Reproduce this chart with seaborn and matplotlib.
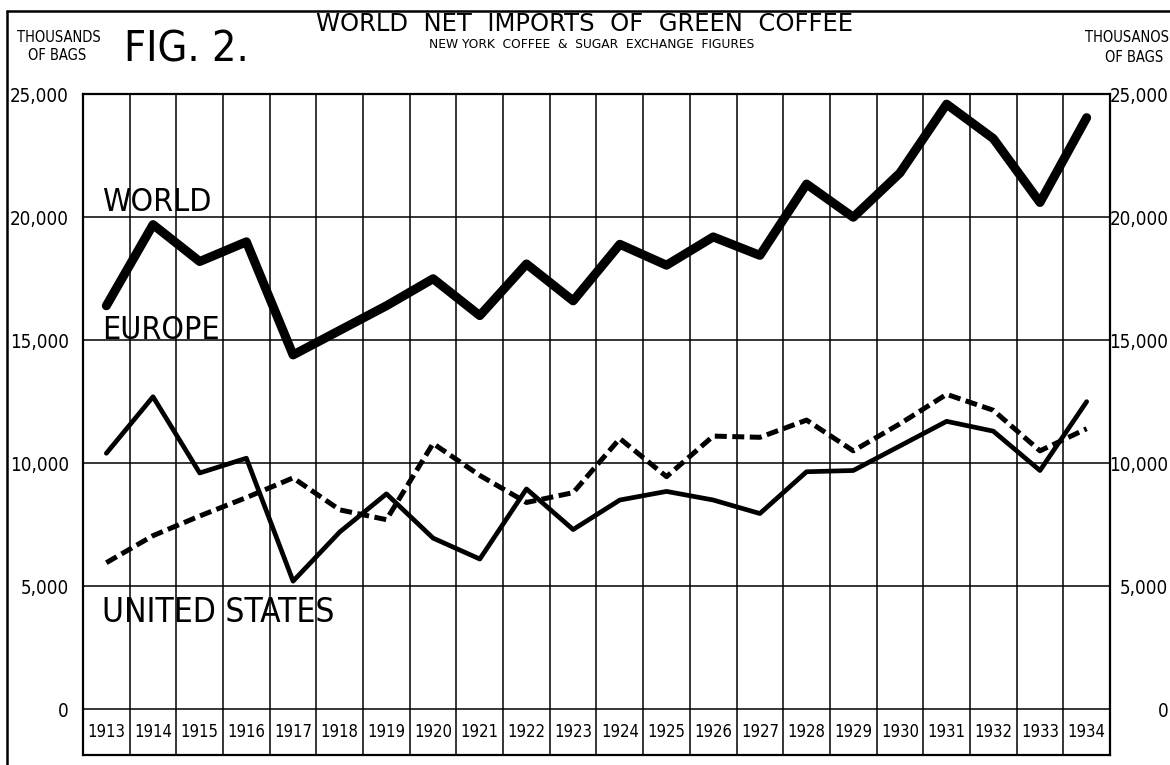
import matplotlib
matplotlib.use("Agg")
import matplotlib.pyplot as plt
import seaborn as sns
from matplotlib.lines import Line2D

# ------------------------------------------------------------------
# data (thousands of bags)
# ------------------------------------------------------------------
years = list(range(1913, 1935))
world = [16400, 19700, 18200, 19000, 14400, 15400, 16400, 17500, 16000, 18100, 16600,
         18900, 18050, 19200, 18450, 21350, 20000, 21800, 24600, 23200, 20600, 24050]
europe = [10400, 12700, 9600, 10200, 5200, 7200, 8750, 6950, 6100, 8950, 7300,
          8500, 8850, 8500, 7950, 9650, 9700, 10700, 11700, 11300, 9700, 12500]
united_states = [5950, 7050, 7850, 8600, 9400, 8100, 7700, 10800, 9500, 8400, 8800,
                 11000, 9450, 11100, 11050, 11750, 10500, 11600, 12800, 12150, 10500, 11400]
y_ticks = [0, 5000, 10000, 15000, 20000, 25000]

sns.set_theme(style="white")
plt.rcParams["font.family"] = ["DejaVu Sans"]
plt.rcParams["text.color"] = "black"
plt.rcParams["ytick.color"] = "black"
COND = dict(family="DejaVu Sans", fontstretch="condensed", color="black")

W, H = 1170, 765
fig = plt.figure(figsize=(W / 100, H / 100), dpi=100)
fig.patch.set_facecolor("white")

# plot box: x 83..1110 px, y 94..755 px (year strip below the zero line)
ax = fig.add_axes([83 / W, 1 - 755 / H, (1110 - 83) / W, (755 - 94.3) / H])
ax.set_xlim(years[0] - 0.5, years[-1] + 0.5)
ax.set_ylim(-1870, 25000)

# hand drawn style grid: column dividers and 5,000 rules
ax.vlines([yr - 0.5 for yr in years[1:]], -1870, 25000, color="black", lw=1.1, zorder=1)
ax.hlines(y_ticks, years[0] - 0.5, years[-1] + 0.5, color="black", lw=1.1, zorder=1)

sns.lineplot(x=years, y=world, ax=ax, color="black", linewidth=6.5, zorder=3)
sns.lineplot(x=years, y=europe, ax=ax, color="black", linewidth=3.4, zorder=3)
sns.lineplot(x=years, y=united_states, ax=ax, color="black", linewidth=3.6,
             linestyle=(0, (2.4, 1.1)), zorder=3)

# series names written on the chart
ax.text(1912.9, 20250, "WORLD", fontsize=23, ha="left", va="baseline", **COND)
ax.text(1912.9, 15050, "EUROPE", fontsize=23, ha="left", va="baseline", **COND)
ax.text(1912.9, 3550, "UNITED STATES", fontsize=24, ha="left", va="baseline", **COND)

# year strip
for yr in years:
    ax.text(yr, -935, str(yr), fontsize=12, ha="center", va="center", **COND)

# left axis labels
ax.set_yticks(y_ticks)
ax.yaxis.set_major_formatter(plt.FuncFormatter(lambda v, pos: f"{int(v):,}"))
ax.tick_params(axis="y", length=0, pad=10, labelsize=13.5)
for lbl in ax.get_yticklabels():
    lbl.set_fontstretch("condensed")
    lbl.set_color("black")
ax.set_xticks([])
ax.set_xlabel("")
ax.set_ylabel("")
for side in ax.spines:
    ax.spines[side].set_visible(True)
    ax.spines[side].set_color("black")
    ax.spines[side].set_linewidth(1.6)

# right axis labels, right aligned near the page edge
ax2 = ax.twinx()
ax2.set_ylim(ax.get_ylim())
ax2.set_yticks(y_ticks)
ax2.yaxis.set_major_formatter(plt.FuncFormatter(lambda v, pos: f"{int(v):,}"))
ax2.tick_params(axis="y", length=0, pad=42, labelsize=13.5)
for lbl in ax2.get_yticklabels():
    lbl.set_fontstretch("condensed")
    lbl.set_color("black")
    lbl.set_ha("right")
ax2.grid(False)
for side in ax2.spines:
    ax2.spines[side].set_visible(False)

# headings
fig.text(59 / W, 1 - 38 / H, "THOUSANDS", fontsize=10.5, ha="center", va="center", **COND)
fig.text(57 / W, 1 - 56 / H, "OF BAGS", fontsize=10.5, ha="center", va="center", **COND)
fig.text(1127 / W, 1 - 37 / H, "THOUSANOS", fontsize=10.5, ha="center", va="center", **COND)
fig.text(1134 / W, 1 - 57 / H, "OF BAGS", fontsize=10.5, ha="center", va="center", **COND)
fig.text(124 / W, 1 - 49 / H, "FIG. 2.", fontsize=31, fontweight="light",
         ha="left", va="center", **COND)
fig.text(585 / W, 1 - 24 / H, "WORLD  NET  IMPORTS  OF  GREEN  COFFEE", fontsize=17.5,
         ha="center", va="center", color="black")
fig.text(592 / W, 1 - 44 / H, "NEW YORK  COFFEE  &  SUGAR  EXCHANGE  FIGURES", fontsize=8.8,
         ha="center", va="center", color="black")

# page border (top and left rules of the printed plate)
fig.add_artist(Line2D([7 / W, 1], [1 - 11 / H, 1 - 11 / H], transform=fig.transFigure,
                      color="black", lw=1.8))
fig.add_artist(Line2D([7 / W, 7 / W], [0, 1 - 11 / H], transform=fig.transFigure,
                      color="black", lw=1.8))

fig.savefig("out.png", dpi=100, facecolor="white")
